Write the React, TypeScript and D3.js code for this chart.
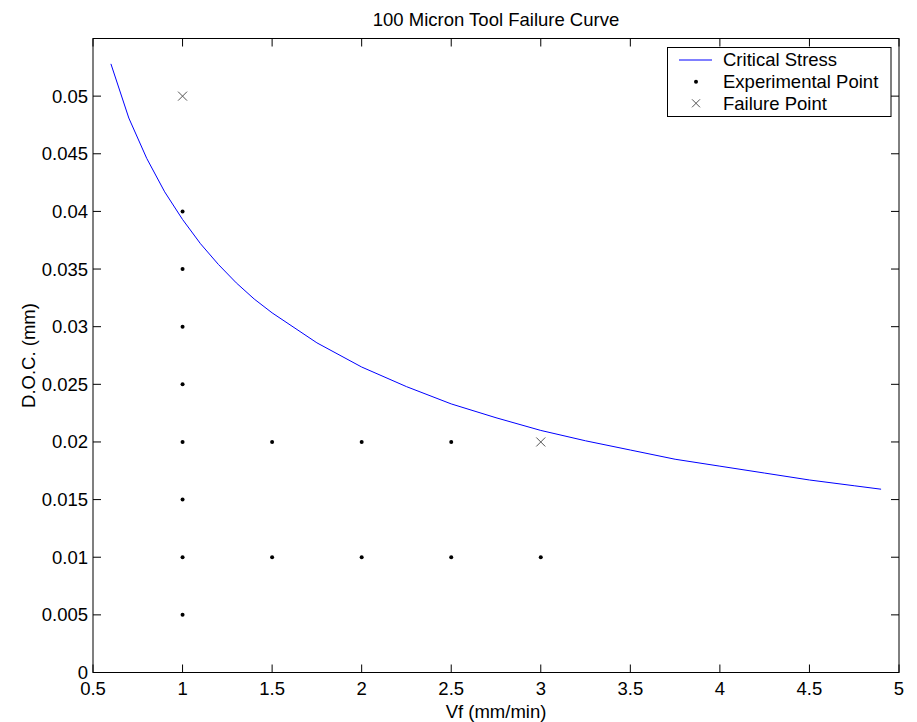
import React from "react";
import * as d3 from "d3";

const curveX = [0.6, 0.7, 0.8, 0.9, 1.0, 1.1, 1.2, 1.3, 1.4, 1.5, 1.75, 2.0, 2.25, 2.5, 2.75, 3.0, 3.25, 3.5, 3.75, 4.0, 4.25, 4.5, 4.75, 4.9];
const curveY = [0.0528, 0.0481, 0.0446, 0.0417, 0.0393, 0.0372, 0.0354, 0.0338, 0.0324, 0.0312, 0.0286, 0.0265, 0.0248, 0.0233, 0.0221, 0.0210, 0.0201, 0.0193, 0.0185, 0.0179, 0.0173, 0.0167, 0.0162, 0.0159];

const expX = [1, 1, 1, 1, 1, 1, 1, 1, 1.5, 1.5, 2, 2, 2.5, 2.5, 3];
const expY = [0.005, 0.01, 0.015, 0.02, 0.025, 0.03, 0.035, 0.04, 0.01, 0.02, 0.01, 0.02, 0.01, 0.02, 0.01];

const failX = [1, 3];
const failY = [0.05, 0.02];

const xTicks = [0.5, 1, 1.5, 2, 2.5, 3, 3.5, 4, 4.5, 5];
const yTicks = [0, 0.005, 0.01, 0.015, 0.02, 0.025, 0.03, 0.035, 0.04, 0.045, 0.05];

const legendLabels = ["Critical Stress", "Experimental Point", "Failure Point"];

const title = "100 Micron Tool Failure Curve";
const xLabel = "Vf (mm/min)";
const yLabel = "D.O.C. (mm)";

export default function App() {
  const W = 917, H = 722;
  const L = 93, R = 899, T = 38.5, B = 672.5;
  const x = d3.scaleLinear().domain([0.5, 5]).range([L, R]);
  const y = d3.scaleLinear().domain([0, 0.055]).range([B, T]);
  const font = "'Liberation Sans', Arial, sans-serif";
  const fs = 18.5;
  const tl = 8;

  const line = d3.line<number>().x((d, i) => x(curveX[i])).y((d) => y(d));
  const pathD = line(curveY) || "";

  const lx = 667.5, ly = 47.5, lw = 223.5, lh = 69;
  const rowY = [60, 81.7, 103.3];

  const fmt = (v: number) => String(+v.toFixed(4));

  const cross = (cx: number, cy: number, s: number, key: any) => (
    <g key={key} stroke="#555" strokeWidth={1}>
      <line x1={cx - s} y1={cy - s} x2={cx + s} y2={cy + s} />
      <line x1={cx - s} y1={cy + s} x2={cx + s} y2={cy - s} />
    </g>
  );

  return (
    <svg width={W} height={H} style={{ position: "absolute", left: 0, top: 0, background: "#fff" }} fontFamily={font}>
      <rect x={0} y={0} width={W} height={H} fill="#fff" />
      <text x={(L + R) / 2} y={26} textAnchor="middle" fontSize={fs} fill="#000">{title}</text>

      <path d={pathD} fill="none" stroke="#0000ff" strokeWidth={1} />

      {expX.map((v, i) => (
        <circle key={"e" + i} cx={x(v)} cy={y(expY[i])} r={2} fill="#000" />
      ))}
      {failX.map((v, i) => cross(x(v), y(failY[i]), 4.5, "f" + i))}

      <rect x={L} y={T} width={R - L} height={B - T} fill="none" stroke="#000" strokeWidth={1} />

      {xTicks.map((t) => (
        <g key={"xt" + t}>
          <line x1={x(t)} x2={x(t)} y1={B} y2={B - tl} stroke="#000" />
          <line x1={x(t)} x2={x(t)} y1={T} y2={T + tl} stroke="#000" />
          <text x={x(t)} y={695} textAnchor="middle" fontSize={fs} fill="#000">{fmt(t)}</text>
        </g>
      ))}
      {yTicks.map((t) => (
        <g key={"yt" + t}>
          <line x1={L} x2={L + tl} y1={y(t)} y2={y(t)} stroke="#000" />
          <line x1={R} x2={R - tl} y1={y(t)} y2={y(t)} stroke="#000" />
          <text x={88} y={y(t)} dy="0.35em" textAnchor="end" fontSize={fs} fill="#000">{fmt(t)}</text>
        </g>
      ))}

      <text x={(L + R) / 2} y={718} textAnchor="middle" fontSize={fs} fill="#000">{xLabel}</text>
      <text transform={`translate(35,${(T + B) / 2}) rotate(-90)`} textAnchor="middle" fontSize={fs} fill="#000">{yLabel}</text>

      <rect x={lx} y={ly} width={lw} height={lh} fill="#fff" stroke="#000" strokeWidth={1} />
      <line x1={679} x2={712} y1={rowY[0]} y2={rowY[0]} stroke="#0000ff" strokeWidth={1} />
      <circle cx={696} cy={rowY[1]} r={2} fill="#000" />
      {cross(696, rowY[2], 4, "lf")}
      {legendLabels.map((s, i) => (
        <text key={"l" + i} x={723} y={rowY[i]} dy="0.35em" fontSize={fs} fill="#000">{s}</text>
      ))}
    </svg>
  );
}
